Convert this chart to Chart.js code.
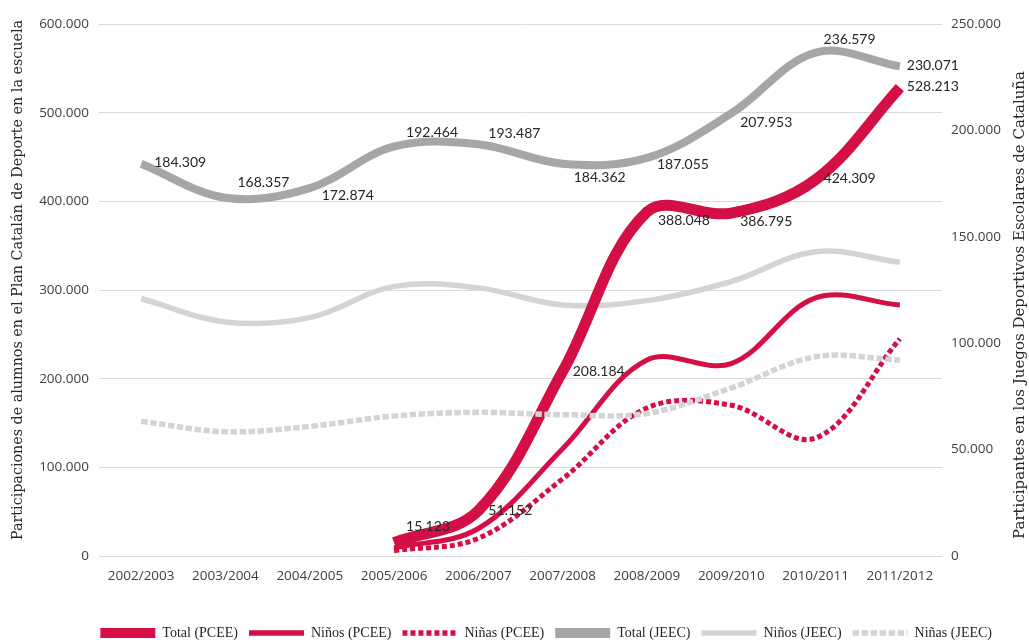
<!DOCTYPE html>
<html><head><meta charset="utf-8">
<script src="https://cdn.jsdelivr.net/npm/chart.js@4.4.0/dist/chart.umd.min.js"></script>
<style>html,body{margin:0;padding:0;background:#fff}#wrap{width:1029px;height:644px;position:relative}</style>
</head><body><div id="wrap"><canvas id="c"></canvas></div>
<script>
const categories = ['2002/2003','2003/2004','2004/2005','2005/2006','2006/2007','2007/2008','2008/2009','2009/2010','2010/2011','2011/2012'];
const totalPCEE = [null,null,null,15123,51152,208184,388048,386795,424309,528213];
const ninosPCEE = [null,null,null,9000,31000,121000,221000,217000,291000,283000];
const ninasPCEE = [null,null,null,6000,20000,87000,167000,170000,133000,245000];
const totalJEEC = [184309,168357,172874,192464,193487,184362,187055,207953,236579,230071];
const ninosJEEC = [121000,110000,112000,126700,126000,118000,120000,129000,143000,138000];
const ninasJEEC = [63300,58400,60900,65800,67500,66400,67000,79000,93600,92100];
const leftTicks = [0,100000,200000,300000,400000,500000,600000];
const rightTicks = [0,50000,100000,150000,200000,250000];
const leftTitle = 'Participaciones de alumnos en el Plan Catalán de Deporte en la escuela';
const rightTitle = 'Participantes en los Juegos Deportivos Escolares de Cataluña';

const RED = '#d30f45', GRAY = '#a6a6a8', LIGHT = '#d4d4d6';
const fmt = v => String(v).replace(/\B(?=(\d{3})+(?!\d))/g, '.');

// label placement (style): offset of label left edge / vertical centre from point
const labelPlacement = {
  0: {dx:[0,0,0,12,10,10,11,9,8,7], dy:[0,0,0,-16,0,0,9,8,-1,-1]},
  3: {dx:[13,12,12,12,10,11,10,9,8,7], dy:[-1,-15,7,-14,-11,14,7,9,-13,-1]}
};

const dataLabels = {
  id:'dataLabels',
  afterDatasetsDraw(chart){
    const ctx = chart.ctx;
    ctx.save();
    ctx.font = '14px Lato';
    ctx.fillStyle = '#262626';
    ctx.textAlign = 'left';
    ctx.textBaseline = 'middle';
    Object.keys(labelPlacement).forEach(k=>{
      const di = +k, pl = labelPlacement[k];
      const meta = chart.getDatasetMeta(di);
      const vals = chart.data.datasets[di].data;
      meta.data.forEach((pt,i)=>{
        if (vals[i]==null) return;
        ctx.fillText(fmt(vals[i]), pt.x + pl.dx[i], pt.y + pl.dy[i]);
      });
    });
    ctx.restore();
  }
};

const axisTitles = {
  id:'axisTitles',
  afterDraw(chart){
    const ctx = chart.ctx;
    const draw = (text, x, y, size) => {
      ctx.save();
      ctx.font = size + 'px "DejaVu Serif"';
      ctx.fillStyle = '#262626';
      ctx.textAlign = 'center';
      ctx.textBaseline = 'middle';
      ctx.translate(x, y); ctx.rotate(-Math.PI/2); ctx.fillText(text,0,0);
      ctx.restore();
    };
    draw(leftTitle, 18, 280, 14.3);
    draw(rightTitle, 1020, 305, 15);
  }
};

const common = {pointRadius:0, pointHoverRadius:0, tension:0.36, fill:false, borderCapStyle:'butt', borderJoinStyle:'round', spanGaps:false};

new Chart(document.getElementById('c'), {
  type:'line',
  data:{
    labels: categories,
    datasets:[
      {...common, label:'Total (PCEE)', data: totalPCEE, yAxisID:'y', borderColor:RED, backgroundColor:RED, borderWidth:11, order:1},
      {...common, label:'Niños (PCEE)', data: ninosPCEE, yAxisID:'y', borderColor:RED, backgroundColor:RED, borderWidth:5, order:2},
      {...common, label:'Niñas (PCEE)', data: ninasPCEE, yAxisID:'y', borderColor:RED, backgroundColor:RED, borderWidth:5, borderDash:[5,3], order:3},
      {...common, label:'Total (JEEC)', data: totalJEEC, yAxisID:'y2', borderColor:GRAY, backgroundColor:GRAY, borderWidth:8, order:4},
      {...common, label:'Niños (JEEC)', data: ninosJEEC, yAxisID:'y2', borderColor:LIGHT, backgroundColor:LIGHT, borderWidth:5.5, order:5},
      {...common, label:'Niñas (JEEC)', data: ninasJEEC, yAxisID:'y2', borderColor:LIGHT, backgroundColor:LIGHT, borderWidth:5.5, borderDash:[6.5,2.5], order:0}
    ]
  },
  options:{
    responsive:true, maintainAspectRatio:false, animation:false,
    layout:{padding:{top:24, left:0, right:26, bottom:-6}},
    plugins:{
      tooltip:{enabled:false},
      legend:{
        position:'bottom', align:'end',
        labels:{
          usePointStyle:true, pointStyleWidth:55, padding:11,
          font:{family:'"Liberation Serif"', size:14}, color:'#262626',
          generateLabels(chart){
            return chart.data.datasets.map((ds,i)=>({
              text: ds.label, pointStyle:'line', strokeStyle: ds.borderColor, fillStyle: ds.borderColor,
              lineWidth: i===0||i===3 ? 10 : 5.5, lineDash: ds.borderDash || [], lineCap:'butt',
              datasetIndex:i, hidden:false, fontColor:'#262626'
            }));
          }
        }
      }
    },
    scales:{
      x:{
        offset:true,
        grid:{display:false, drawTicks:false}, border:{display:false},
        ticks:{font:{family:'"Open Sans"', size:13.5}, color:'#404040', padding:12, maxRotation:0, autoSkip:false},
        afterFit(s){ s.height = 59; }
      },
      y:{
        position:'left', min:0, max:600000,
        afterBuildTicks(s){ s.ticks = leftTicks.map(v=>({value:v})); },
        ticks:{font:{family:'"Open Sans"', size:13.5}, color:'#404040', padding:10, callback:v=>fmt(v)},
        grid:{color:'#d9d9d9', lineWidth:1, drawTicks:false}, border:{display:false},
        afterFit(s){ s.width = 99; }
      },
      y2:{
        position:'right', min:0, max:250000,
        afterBuildTicks(s){ s.ticks = rightTicks.map(v=>({value:v})); },
        ticks:{font:{family:'"Open Sans"', size:13.5}, color:'#404040', padding:9, callback:v=>fmt(v)},
        grid:{display:false, drawTicks:false}, border:{display:false},
        afterFit(s){ s.width = 61; }
      }
    }
  },
  plugins:[dataLabels, axisTitles]
});
</script></body></html>
